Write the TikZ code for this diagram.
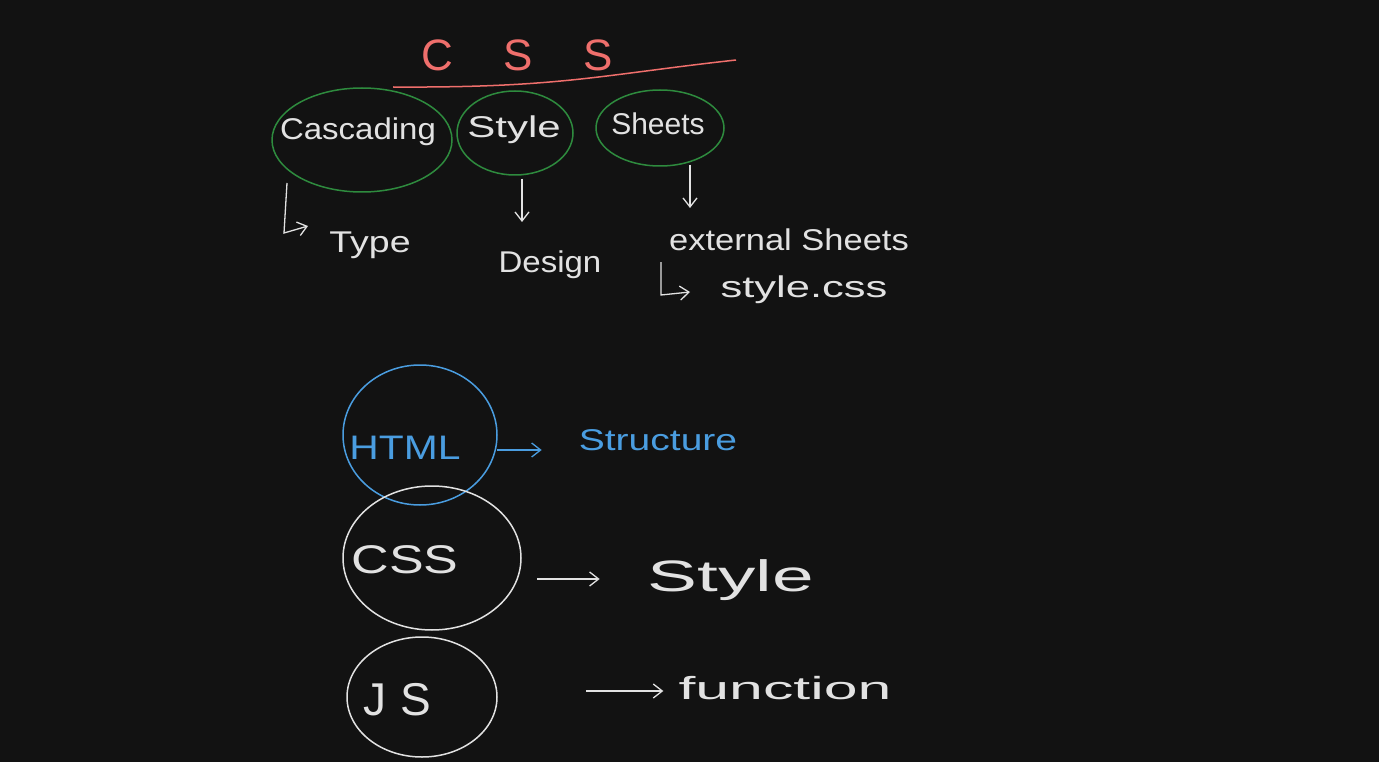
\documentclass[tikz,border=0pt]{standalone}
\usepackage{fontspec}
\usepackage{graphicx}
\setmainfont{Liberation Sans}
\usetikzlibrary{shapes.geometric,arrows.meta}
\definecolor{bg}{HTML}{121212}
\definecolor{ink}{HTML}{E2E2E2}
\definecolor{grn}{HTML}{2E8B3E}
\definecolor{redd}{HTML}{EF6F6C}
\definecolor{blu}{HTML}{4A9DE0}
\newcommand{\widen}[2]{\scalebox{#1}[1]{#2}}
\tikzset{
  oval/.style={draw, ellipse, line width=1.5pt, inner sep=0pt},
  lbl/.style={text=ink, inner sep=0pt, font=\fontsize{30}{34}\selectfont},
  conn/.style={draw=ink, line width=1.3pt, -{Straight Barb[length=9pt,width=14pt]}},
}
\begin{document}
\begin{tikzpicture}[x=1pt,y=-1pt]
\fill[bg] (0,0) rectangle (1379,762);
\useasboundingbox (0,0) rectangle (1379,762);

% title
\node (title) at (517,55) [text=redd, font=\fontsize{44}{50}\selectfont] {C\hspace{1.15em}S\hspace{1.15em}S};
\coordinate (ulA) at (393,87);
\coordinate (ulB) at (736,60);
\draw[redd, line width=1.5pt] (ulA) .. controls (560,88) and (600,75) .. (ulB);

% top ovals
\node (casc) at (362,140) [oval, draw=grn, minimum width=180pt, minimum height=104pt] {};
\node (castx) at (358,132) [lbl] {\widen{1.1}{Cascading}};
\node (sty) at (515,133) [oval, draw=grn, minimum width=116pt, minimum height=84pt] {};
\node (stytx) at (514,130) [lbl] {\widen{1.4}{Style}};
\node (sht) at (660,128) [oval, draw=grn, minimum width=128pt, minimum height=76pt] {};
\node (shttx) at (658,124) [lbl] {Sheets};

% derived terms
\node (type) at (370,245) [lbl] {\widen{1.25}{Type}};
\node (design) at (550,265) [lbl] {\widen{1.1}{Design}};
\node (ext) at (789,240) [lbl] {\widen{1.15}{external Sheets}};
\node (stycss) at (804,290) [lbl] {\widen{1.45}{style.css}};

\coordinate (c1) at (287,183);
\draw[conn] (c1) -- (284,233) -- (308,226);
\draw[conn] (sty.south) ++(7,3) -- (522,222);
\draw[conn] (sht.south) ++(30,-2) -- (690,208);
\coordinate (c2) at (661,262);
\draw[conn] (c2) -- (661,295) -- (690,292);

% bottom ovals
\node (html) at (420,435) [oval, draw=blu, minimum width=154pt, minimum height=140pt] {};
\node (htmltx) at (405,448) [text=blu, inner sep=0pt, font=\fontsize{34}{40}\selectfont] {\widen{1.2}{HTML}};
\node (struct) at (658,440) [text=blu, inner sep=0pt, font=\fontsize{30}{34}\selectfont] {\widen{1.3}{Structure}};
\coordinate (h1) at (497,450);
\draw[blu, line width=1.3pt, -{Straight Barb[length=9pt,width=14pt]}, shorten >=37pt] (h1) -- (struct.west |- h1);

\node (css) at (432,558) [oval, draw=ink, minimum width=178pt, minimum height=144pt] {};
\node (csstx) at (405,560) [lbl, font=\fontsize{40}{46}\selectfont] {\widen{1.3}{CSS}};
\node (style2) at (731,580) [lbl, font=\fontsize{44}{50}\selectfont] {\widen{1.7}{Style}};
\coordinate (s1) at (537,579);
\draw[conn, shorten >=48pt] (s1) -- (style2.west |- s1);

\node (js) at (422,697) [oval, draw=ink, minimum width=150pt, minimum height=120pt] {};
\node (jstx) at (397,700) [lbl, font=\fontsize{46}{52}\selectfont] {J\hspace{0.3em}S};
\node (func) at (785,688) [lbl, font=\fontsize{32}{36}\selectfont] {\widen{1.9}{function}};
\coordinate (j1) at (586,691);
\draw[conn, shorten >=15pt] (j1) -- (func.west |- j1);
\end{tikzpicture}
\end{document}
